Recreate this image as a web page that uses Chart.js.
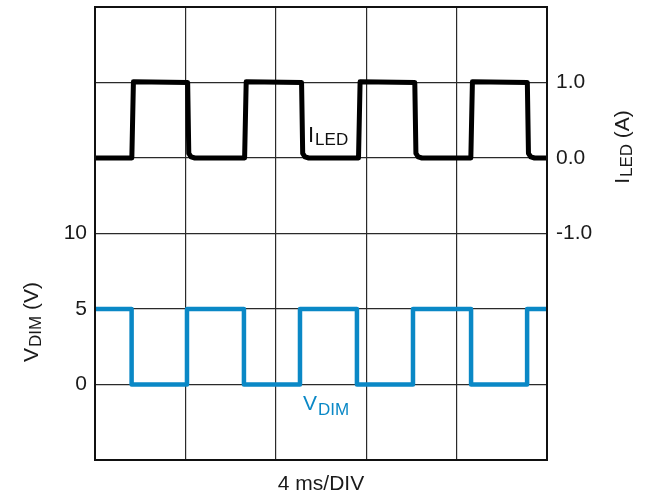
<!DOCTYPE html>
<html>
<head>
<meta charset="utf-8">
<script src="https://cdn.jsdelivr.net/npm/chart.js@4"></script>
<style>
  html, body { margin: 0; padding: 0; background: #ffffff; }
  #wrap { width: 645px; height: 498px; position: relative; }
</style>
</head>
<body>
<div id="wrap"><canvas id="c"></canvas></div>
<script>
// ---- data (time in ms, 4 ms per division) ----
const iledTimeMs = [0, 1.63, 1.70, 4.10, 4.15, 4.25, 4.42,
                    6.62, 6.69, 9.14, 9.19, 9.29, 9.46,
                    11.66, 11.73, 14.15, 14.20, 14.30, 14.47,
                    16.63, 16.70, 19.13, 19.18, 19.28, 19.45, 20];
const iledAmps   = [0, 0, 1.01, 1.0, 0.06, 0.015, 0,
                    0, 1.01, 1.0, 0.06, 0.015, 0,
                    0, 1.01, 1.0, 0.06, 0.015, 0,
                    0, 1.01, 1.0, 0.06, 0.015, 0, 0];
const vdimTimeMs = [0, 1.62, 1.62, 4.07, 4.07, 6.59, 6.59, 9.07, 9.07,
                    11.59, 11.59, 14.07, 14.07, 16.64, 16.64, 19.12, 19.12, 20];
const vdimVolts  = [5, 5, 0, 0, 5, 5, 0, 0, 5,
                    5, 0, 0, 5, 5, 0, 0, 5, 5];
const leftTickLabels  = [0, 5, 10];
const rightTickLabels = [-1, 0, 1];
const xTitle = '4 ms/DIV';

const FONT = '"Liberation Sans", Arial, Helvetica, sans-serif';
const TXT = '#1a1a1a';
const BLUE = '#0a88c6';

const iledData = iledTimeMs.map((t, i) => ({x: t, y: iledAmps[i]}));
const vdimData = vdimTimeMs.map((t, i) => ({x: t, y: vdimVolts[i]}));

function drawSub(ctx, main, sub, x, y, mainSize, subSize, subDrop, color) {
  ctx.fillStyle = color;
  ctx.textBaseline = 'alphabetic';
  ctx.textAlign = 'left';
  ctx.font = mainSize + 'px ' + FONT;
  ctx.fillText(main, x, y);
  const w = ctx.measureText(main).width;
  ctx.font = subSize + 'px ' + FONT;
  ctx.fillText(sub, x + w + 1, y + subDrop);
}

function measureParts(ctx, parts) {
  let total = 0;
  parts.forEach(p => { ctx.font = p.size + 'px ' + FONT; p.w = ctx.measureText(p.t).width; total += p.w + (p.gap || 0); });
  return total;
}

function drawRotated(ctx, parts, cx, cy, color) {
  ctx.save();
  ctx.translate(cx, cy);
  ctx.rotate(-Math.PI / 2);
  ctx.fillStyle = color;
  ctx.textBaseline = 'alphabetic';
  ctx.textAlign = 'left';
  const total = measureParts(ctx, parts);
  let x = -total / 2;
  parts.forEach(p => {
    ctx.font = p.size + 'px ' + FONT;
    ctx.fillText(p.t, x, p.dy);
    x += p.w + (p.gap || 0);
  });
  ctx.restore();
}

const annot = {
  id: 'annot',
  afterDraw(chart) {
    const ctx = chart.ctx;
    const a = chart.chartArea;
    ctx.save();
    // plot frame
    ctx.strokeStyle = '#111111';
    ctx.lineWidth = 2;
    ctx.strokeRect(a.left, a.top, a.right - a.left, a.bottom - a.top);
    // in-plot labels
    drawSub(ctx, 'I', 'LED', 308, 142, 22, 17, 3, '#111111');
    drawSub(ctx, 'V', 'DIM', 303, 410, 21, 17, 5, BLUE);
    // axis titles with subscripts
    drawRotated(ctx, [
      {t: 'V', size: 21, dy: 0, gap: 1},
      {t: 'DIM', size: 17, dy: 3},
      {t: ' (V)', size: 21, dy: 0}
    ], 38, 322, TXT);
    drawRotated(ctx, [
      {t: 'I', size: 21, dy: 0, gap: 1},
      {t: 'LED', size: 17, dy: 3},
      {t: ' (A)', size: 21, dy: 0}
    ], 629, 147, TXT);
    ctx.restore();
  }
};

new Chart(document.getElementById('c'), {
  type: 'line',
  data: {
    datasets: [
      {
        label: 'ILED',
        data: iledData,
        yAxisID: 'y1',
        borderColor: '#000000',
        borderWidth: 5,
        borderCapStyle: 'round',
        borderJoinStyle: 'round',
        pointRadius: 0,
        tension: 0,
        fill: false
      },
      {
        label: 'VDIM',
        data: vdimData,
        yAxisID: 'y',
        borderColor: BLUE,
        borderWidth: 4.5,
        borderCapStyle: 'round',
        borderJoinStyle: 'round',
        pointRadius: 0,
        tension: 0,
        fill: false
      }
    ]
  },
  options: {
    responsive: true,
    maintainAspectRatio: false,
    animation: false,
    layout: { padding: { top: 7, left: 0, right: 0, bottom: 0 } },
    plugins: { legend: { display: false }, tooltip: { enabled: false } },
    scales: {
      x: {
        type: 'linear',
        min: 0, max: 20,
        ticks: { stepSize: 4, display: false },
        grid: { color: '#2a2a2a', lineWidth: 1.2, drawTicks: false },
        border: { display: false },
        title: { display: true, text: xTitle, color: TXT, font: { family: FONT, size: 21 }, padding: { top: 0, bottom: 1 } },
        afterFit(s) { s.height = 38; s.paddingLeft = 0; s.paddingRight = 0; }
      },
      y: {
        position: 'left',
        min: -5, max: 25,
        ticks: {
          stepSize: 5,
          color: TXT,
          padding: 8,
          font: { family: FONT, size: 21 },
          callback: v => leftTickLabels.includes(v) ? String(v) : ''
        },
        grid: { color: '#2a2a2a', lineWidth: 1.2, drawTicks: false },
        border: { display: false },
        afterFit(s) { s.width = 95; s.paddingTop = 0; s.paddingBottom = 0; }
      },
      y1: {
        position: 'right',
        min: -4, max: 2,
        ticks: {
          stepSize: 1,
          color: TXT,
          padding: 9,
          font: { family: FONT, size: 21 },
          callback: v => rightTickLabels.includes(v) ? v.toFixed(1) : ''
        },
        grid: { drawOnChartArea: false, drawTicks: false },
        border: { display: false },
        afterFit(s) { s.width = 98; s.paddingTop = 0; s.paddingBottom = 0; }
      }
    }
  },
  plugins: [annot]
});
</script>
</body>
</html>
